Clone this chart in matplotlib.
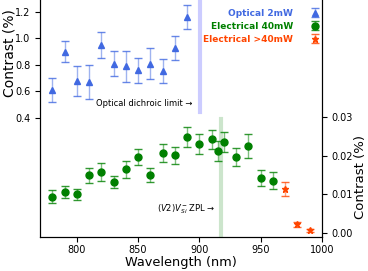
import numpy as np
import matplotlib
matplotlib.use("Agg")
import matplotlib.pyplot as plt

# optical, 2 mW (left axis)
opt_wl = [780, 790, 800, 810, 820, 830, 840, 850, 860, 870, 880, 890]
opt_c = [0.61, 0.90, 0.68, 0.67, 0.95, 0.81, 0.79, 0.76, 0.81, 0.755, 0.93, 1.16]
opt_err = [0.09, 0.08, 0.115, 0.13, 0.10, 0.097, 0.117, 0.094, 0.115, 0.09, 0.09, 0.093]

# electrical, 40 mW (right axis)
el_wl = [780, 790, 800, 810, 820, 830, 840, 850, 860, 870, 880, 890, 900, 910, 915, 920, 930, 940, 950, 960]
el_c = [0.0094, 0.0107, 0.0101, 0.0150, 0.0158, 0.0132, 0.0165, 0.0197, 0.0150, 0.0208,
        0.0202, 0.0248, 0.0230, 0.0243, 0.0213, 0.0236, 0.0197, 0.0226, 0.0142, 0.0136]
el_err = [0.0017, 0.0015, 0.0014, 0.0019, 0.0024, 0.0016, 0.0023, 0.0021, 0.0018, 0.0024,
          0.0022, 0.0026, 0.0026, 0.0025, 0.0025, 0.0025, 0.0024, 0.0031, 0.0021, 0.0021]

# electrical, >40 mW (right axis)
hi_wl = [970, 980, 990]
hi_c = [0.0115, 0.0023, 0.0007]
hi_err = [0.0018, 0.0006, 0.0003]

blue = 'royalblue'
green = 'green'
red = 'orangered'

fig = plt.figure(figsize=(3.68, 2.71), dpi=100)
ax = fig.add_axes([0.1087, 0.1255, 0.7663, 0.8795])
ax2 = ax.twinx()


def draw(axis, x, y, e, color, marker, ms, label):
    cont = axis.errorbar(x, y, yerr=e, fmt=marker, color=color, ms=ms, capsize=2.7,
                         elinewidth=1, ecolor=color, label=label, zorder=3)
    for line in cont[2]:
        line.set_alpha(0.5)
    for cap in cont[1]:
        cap.set_alpha(0.8)
    return cont


h1 = draw(ax, opt_wl, opt_c, opt_err, blue, '^', 5, 'Optical 2mW')
h2 = draw(ax2, el_wl, el_c, el_err, green, 'o', 5, 'Electrical 40mW')
h3 = draw(ax2, hi_wl, hi_c, hi_err, red, '*', 5, 'Electrical >40mW')

ax.axvline(900.5, ymin=0.523, ymax=1, color='blue', alpha=0.2, lw=3, zorder=1)
ax2.axvline(918, ymin=0, ymax=0.494, color='green', alpha=0.2, lw=3, zorder=1)

ax.text(894, 0.505, 'Optical dichroic limit →', ha='right', va='center', fontsize=6)
ax2.text(913.5, 0.0062, r'$(V2)V_{Si}^{-}$ ZPL →', ha='right', va='center', fontsize=6)

ax.set_xlim(770, 1000)
ax.set_ylim(-0.5, 1.3)
ax2.set_ylim(-0.001, 0.0607)
ax.set_xticks([800, 850, 900, 950, 1000])
ax.set_yticks([0.4, 0.6, 0.8, 1.0, 1.2])
ax2.set_yticks([0.0, 0.01, 0.02, 0.03])
ax.tick_params(labelsize=7)
ax.tick_params(axis='x', pad=2)
ax2.tick_params(labelsize=7)

ax.set_xlabel('Wavelength (nm)', fontsize=9.3)
ax.xaxis.set_label_coords(0.5, -0.08)
ax.set_ylabel('Contrast (%)', fontsize=10)
ax.yaxis.set_label_coords(-0.085, 0.77)
ax2.set_ylabel('Contrast (%)', fontsize=9.5)
ax2.yaxis.set_label_coords(1.112, 0.25)

ax.legend([h1, h2, h3], ['Optical 2mW', 'Electrical 40mW', 'Electrical >40mW'],
          loc='upper right', bbox_to_anchor=(1.02, 0.972), borderaxespad=0,
          frameon=False, markerfirst=False,
          prop={'weight': 'bold', 'size': 6.5}, labelcolor=[blue, green, red],
          labelspacing=0.45, handlelength=2.0, handletextpad=1.4)

fig.savefig('out.png', dpi=100)
